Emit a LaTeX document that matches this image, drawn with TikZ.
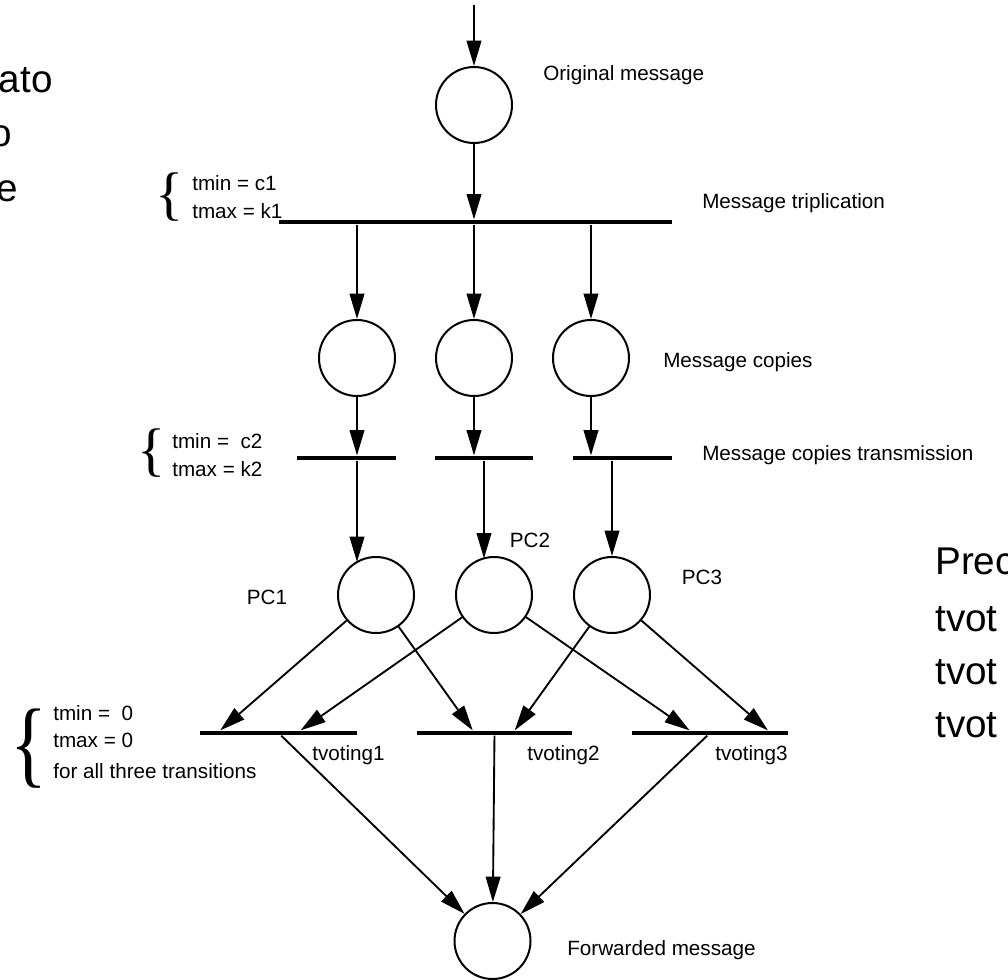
\documentclass[tikz,border=0pt]{standalone}
\usepackage{fontspec}
\setmainfont{Liberation Sans}
\newfontfamily\bracefont{Liberation Serif}
\usetikzlibrary{arrows.meta, calc}

\tikzset{
  place/.style={circle, draw, line width=1.5pt, minimum size=57pt, inner sep=0pt},
  trans/.style={rectangle, fill=black, inner sep=0pt, minimum height=3.5pt,
    minimum width=#1*0.75pt},
  flow/.style={-{Triangle[length=19pt, width=11pt]}, line width=1.4pt},
  lbl/.style={font=\fontsize{15.5}{21}\selectfont, inner sep=0pt},
  cond/.style={font=\fontsize{15.5}{20.5}\selectfont, inner sep=0pt,
    anchor=west, align=left},
  brc/.style={inner sep=0pt, font=\bracefont\fontsize{#1}{#1}\selectfont},
  slide/.style={font=\fontsize{29}{41}\selectfont, inner sep=0pt}
}

\begin{document}
\begin{tikzpicture}[x=0.75pt, y=-0.75pt]
  \useasboundingbox (0,0) rectangle (1008,980);

  % places and transitions
  \node[place] (om) at (474,105) {};
  \node[trans=393] (mt) at (475.5,222) {};
  \node[place] (mc1) at (357,358) {};
  \node[place] (mc2) at (474,358) {};
  \node[place] (mc3) at (591,358) {};
  \node[trans=99] (ct1) at (346.5,458) {};
  \node[trans=98] (ct2) at (484,458) {};
  \node[trans=99] (ct3) at (622.5,458) {};
  \node[place] (pc1) at (376,595) {};
  \node[place] (pc2) at (494,595) {};
  \node[place] (pc3) at (612,595) {};
  \node[trans=157] (tv1) at (278.5,733) {};
  \node[trans=155] (tv2) at (494.5,733) {};
  \node[trans=156] (tv3) at (710,733) {};
  \node[place] (fwd) at (492.5,941) {};

  % labels
  \node[lbl, anchor=west] (lom) at (543,75) {Original message};
  \node[lbl, anchor=west] (lmt) at (702,203) {Message triplication};
  \node[lbl, anchor=west] (lmc) at (663,362) {Message copies};
  \node[lbl, anchor=west] (lct) at (702,455) {Message copies transmission};
  \node[lbl] (lpc1) at (267,597) {PC1};
  \node[lbl] (lpc2) at (530,540) {PC2};
  \node[lbl] (lpc3) at (702,577) {PC3};
  \node[lbl, anchor=west] (ltv1) at (312,755) {tvoting1};
  \node[lbl, anchor=west] (ltv2) at (527,755) {tvoting2};
  \node[lbl, anchor=west] (ltv3) at (715,755) {tvoting3};
  \node[lbl, anchor=west] (lfwd) at (567,950) {Forwarded message};

  % timing conditions
  \node[brc=44] (b1) at (169.5,197) {\{};
  \node[cond] (c1) at (192,197) {tmin = c1\\tmax = k1};
  \node[brc=44] (b2) at (152,453) {\{};
  \node[cond] (c2) at (172,455) {tmin = \ c2\\tmax = k2};
  \node[brc=72] (b3) at (29,749) {\scalebox{0.8}[1]{\{}};
  \node[cond] (c3) at (53,742) {tmin = \ 0\\tmax = 0\\[3pt]for all three transitions};

  % slide text cut by the frame
  \node[slide, anchor=base east] (s1) at (53,93) {ato};
  \node[slide, anchor=base east] (s2) at (12,147) {o};
  \node[slide, anchor=base east] (s3) at (18,202) {e};
  \node[slide, anchor=base west] (s4) at (935,575) {Prec};
  \node[slide, anchor=base west] (s5) at (935,632) {tvot};
  \node[slide, anchor=base west] (s6) at (935,685) {tvot};
  \node[slide, anchor=base west] (s7) at (935,738) {tvot};

  % arcs
  \coordinate (in) at (474,5);
  \draw[flow] (in) -- (om);
  \draw[flow] (om) -- (om |- mt.north);
  \foreach \i in {1,2,3} {
    \draw[flow] (mt.south -| mc\i) -- (mc\i);
    \draw[flow] (mc\i) -- (mc\i |- ct\i.north);
  }
  \draw[flow] (ct1.south -| mc1) -- ($(pc1)+(-19,-33)$);
  \draw[flow] (ct2.south) -- ($(pc2)+(-10,-36.6)$);
  \draw[flow] (ct3.south -| pc3) -- (pc3);

  \draw[flow] (pc1) -- ($(tv1.north west)!0.13!(tv1.north east)$);
  \draw[flow] (pc1) -- ($(tv2.north west)!0.36!(tv2.north east)$);
  \draw[flow] (pc2) -- ($(tv1.north west)!0.64!(tv1.north east)$);
  \draw[flow] (pc2) -- ($(tv3.north west)!0.37!(tv3.north east)$);
  \draw[flow] (pc3) -- ($(tv2.north west)!0.63!(tv2.north east)$);
  \draw[flow] (pc3) -- ($(tv3.north west)!0.87!(tv3.north east)$);
  \foreach \i in {1,2,3}
    \draw[flow] (tv\i) -- (fwd);
\end{tikzpicture}
\end{document}
